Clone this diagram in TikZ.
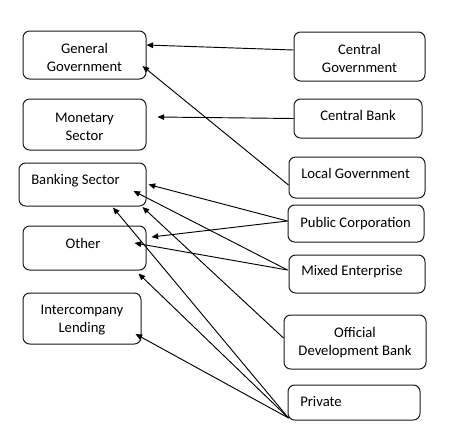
\documentclass[tikz,border=0pt]{standalone}
\usepackage{fontspec}
\setmainfont{Carlito}
\usetikzlibrary{arrows.meta,calc}
\tikzset{
  box/.style={draw=black!90, line width=0.75pt, rounded corners=5pt, inner sep=0pt, align=center},
  txt/.style={inner sep=0pt, align=center},
  arr/.style={line width=0.7pt, -{Triangle[length=5pt,width=4.2pt]}}
}
\begin{document}
\begin{tikzpicture}[x=0.75pt,y=-0.75pt,font=\fontsize{11}{13.5}\selectfont]
\useasboundingbox (0,0) rectangle (457,447);
% left boxes
\node[box, minimum width=123*0.75pt, minimum height=48*0.75pt] (gg) at (84.5,55) {};
\node[txt] (ggt) at (84.5,57) {General\\Government};
\node[box, minimum width=123*0.75pt, minimum height=51*0.75pt] (ms) at (84.5,124.5) {};
\node[txt] (mst) at (84.5,126.5) {Monetary\\Sector};
\node[box, minimum width=127*0.75pt, minimum height=43*0.75pt] (bank) at (82.5,184.5) {};
\node[txt, anchor=west] (bankt) at (31,180.5) {Banking Sector};
\node[box, minimum width=123*0.75pt, minimum height=44*0.75pt] (oth) at (84.5,248) {};
\node[txt] (otht) at (83,243.5) {Other};
\node[box, minimum width=118*0.75pt, minimum height=51*0.75pt] (il) at (82,318.5) {};
\node[txt] (ilt) at (82,320) {Intercompany\\Lending};
% right boxes
\node[box, minimum width=131*0.75pt, minimum height=49*0.75pt] (cg) at (359.5,56.5) {};
\node[txt] (cgt) at (359.5,58) {Central\\Government};
\node[box, minimum width=128*0.75pt, minimum height=39*0.75pt] (cb) at (358,118.5) {};
\node[txt] (cbt) at (358,115.5) {Central Bank};
\node[box, minimum width=136*0.75pt, minimum height=41*0.75pt] (lg) at (357,177.5) {};
\node[txt, anchor=west] (lgt) at (301,173.5) {Local Government};
\node[box, minimum width=136*0.75pt, minimum height=37*0.75pt] (pc) at (356,223.5) {};
\node[txt, anchor=west] (pct) at (300,223.5) {Public Corporation};
\node[box, minimum width=136*0.75pt, minimum height=38*0.75pt] (me) at (357,274) {};
\node[txt, anchor=west] (met) at (301,271.5) {Mixed Enterprise};
\node[box, minimum width=142*0.75pt, minimum height=54*0.75pt] (odb) at (355,342) {};
\node[txt] (odbt) at (355,343) {Official\\Development Bank};
\node[box, minimum width=132*0.75pt, minimum height=35*0.75pt] (pr) at (354,402.5) {};
\node[txt, anchor=west] (prt) at (300,401.5) {Private};
% arrows
\draw[arr] ($(cg.west)+(0,-6.5)$) -- ($(gg.east)+(0,-10)$);
\draw[arr] (cb.west) -- ($(ms.east)+(11,-7.5)$);
\draw[arr] ($(lg.west)+(0,7.5)$) -- ($(gg.east)+(-4,11)$);
\draw[arr] ($(pc.west)+(0,-2.5)$) -- ($(bank.east)+(2,0)$);
\draw[arr] ($(pc.west)+(0,-2.5)$) -- ($(oth.east)+(5,-11)$);
\draw[arr] ($(me.west)+(-1,-4)$) -- ($(bank.east)+(-13,6.5)$);
\draw[arr] ($(me.west)+(-1,-4)$) -- ($(oth.east)+(-12,-5)$);
\draw[arr] ($(odb.west)+(0,-4)$) -- ($(bank.east)+(-4,22.5)$);
\draw[arr] ($(pr.west)+(1,15.5)$) -- ($(bank.south)+(30.5,1)$);
\draw[arr] ($(pr.west)+(1,15.5)$) -- ($(oth.south east)+(-8,3)$);
\draw[arr] ($(pr.west)+(1,15.5)$) -- ($(il.east)+(-6,15.5)$);
\end{tikzpicture}
\end{document}
